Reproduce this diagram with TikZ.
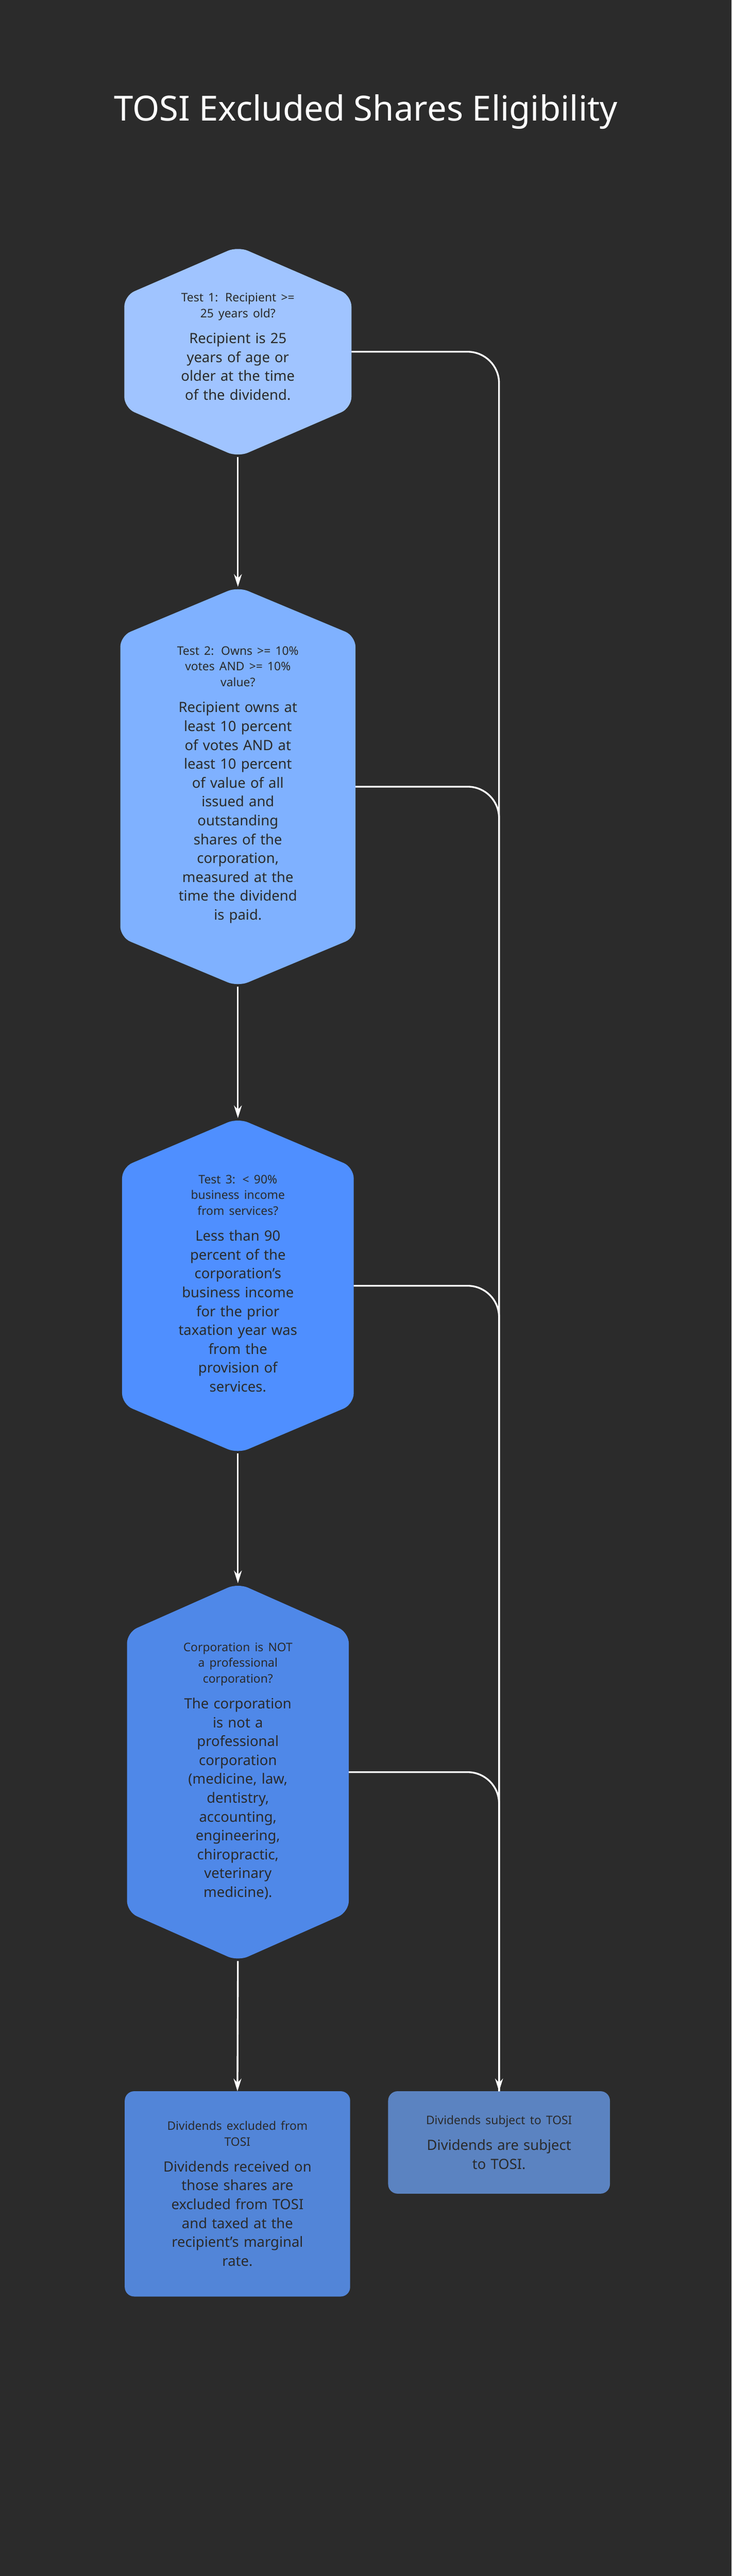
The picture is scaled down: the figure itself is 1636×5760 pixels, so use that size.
\documentclass[tikz,border=0pt]{standalone}
\usepackage{fontspec}
\setmainfont{Noto Sans}
\usetikzlibrary{arrows.meta}
\definecolor{bgdark}{HTML}{2B2B2B}
\definecolor{inkdark}{HTML}{2A2A2A}
\definecolor{hexone}{HTML}{A0C4FF}
\definecolor{hextwo}{HTML}{7FB1FF}
\definecolor{hexthree}{HTML}{4F8FFF}
\definecolor{hexfour}{HTML}{4F88E8}
\definecolor{boxone}{HTML}{5285D8}
\definecolor{boxtwo}{HTML}{5B83C1}
% hexagon: name, cx, ytop, ybot, half width, colour
\newcommand{\hexa}[6]{%
\fill[#6, rounded corners=14] (#2,#3) -- (#2+#5,#3+110) -- (#2+#5,#4-110) -- (#2,#4)
  -- (#2-#5,#4-110) -- (#2-#5,#3+110) -- cycle;
\coordinate (#1n) at (#2,#3);
\coordinate (#1s) at (#2,#4);
\coordinate (#1e) at (#2+#5,{(#3+#4)/2});
}
\newcommand{\hd}[1]{{\fontsize{15}{20}\selectfont\bfseries #1\par}\vspace{9pt}}
\begin{document}
\begin{tikzpicture}[x=0.02cm, y=-0.02cm,
  txt/.style={text=inkdark, align=center, text width=10cm, font=\fontsize{18}{24}\selectfont, inner sep=0pt},
  flow/.style={draw=white, line width=2.2pt, -{Stealth[length=16pt, width=10pt]}},
  rail/.style={draw=white, line width=2.2pt, rounded corners=40}]
\fill[bgdark] (0,0) rectangle (1636,5760);
\useasboundingbox (0,0) rectangle (1636,5760);

\node[text=white, font=\fontsize{44}{52}\selectfont\bfseries] (title) at (818,250) {TOSI Excluded Shares Eligibility};

\hexa{h1}{532}{551}{1022}{254}{hexone}
\hexa{h2}{532}{1312}{2206}{263}{hextwo}
\hexa{h3}{532}{2500}{3250}{259}{hexthree}
\hexa{h4}{532}{3540}{4385}{248}{hexfour}

\node[txt] (t1) at (532,775) {\hd{Test 1: Recipient >=\\25 years old?}Recipient is 25\\years of age or\\older at the time\\of the dividend.};
\node[txt] (t2) at (532,1755) {\hd{Test 2: Owns >= 10\%\\votes AND >= 10\%\\value?}Recipient owns at\\least 10 percent\\of votes AND at\\least 10 percent\\of value of all\\issued and\\outstanding\\shares of the\\corporation,\\measured at the\\time the dividend\\is paid.};
\node[txt] (t3) at (532,2870) {\hd{Test 3: < 90\%\\business income\\from services?}Less than 90\\percent of the\\corporation's\\business income\\for the prior\\taxation year was\\from the\\provision of\\services.};
\node[txt] (t4) at (532,3960) {\hd{Corporation is NOT\\a professional\\corporation?}The corporation\\is not a\\professional\\corporation\\(medicine, law,\\dentistry,\\accounting,\\engineering,\\chiropractic,\\veterinary\\medicine).};

\fill[boxone, rounded corners=12] (279,4676) rectangle (783,5135);
\coordinate (b1n) at (531,4676);
\node[txt] (t5) at (531,4905) {\hd{Dividends excluded from\\TOSI}Dividends received on\\those shares are\\excluded from TOSI\\and taxed at the\\recipient's marginal\\rate.};
\fill[boxtwo, rounded corners=12] (868,4676) rectangle (1364,4905);
\coordinate (b2n) at (1116,4676);
\node[txt] (t6) at (1116,4790) {\hd{Dividends subject to TOSI}Dividends are subject\\to TOSI.};

\draw[flow] (h1s) -- (h2n);
\draw[flow] (h2s) -- (h3n);
\draw[flow] (h3s) -- (h4n);
\draw[flow] (h4s) -- (b1n);

\draw[rail] (h1e) -| (b2n);
\draw[rail] (h2e) -| (b2n);
\draw[rail] (h3e) -| (b2n);
\draw[rail] (h4e) -| (b2n);
\draw[flow] (1116,4500) -- (b2n);
\end{tikzpicture}
\end{document}
